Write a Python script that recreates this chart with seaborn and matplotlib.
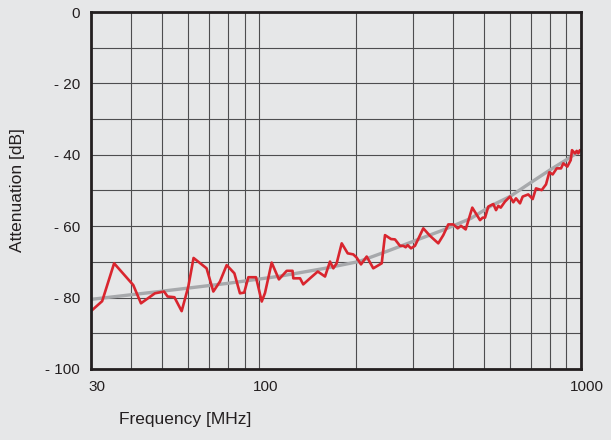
import matplotlib
matplotlib.use("Agg")
import matplotlib.pyplot as plt
import matplotlib.ticker as mticker
import matplotlib.transforms as mtransforms
import seaborn as sns
import pandas as pd

freq_mhz = [30, 32.5, 35.4, 40.6, 42.9, 47.4, 50.6, 51.9, 54.5, 57.4,
            60.2, 62.5, 68.6, 72.0, 75.5, 79.2, 83.7, 87.1, 89.8, 92.5,
            97.7, 101.8, 104.2, 109.3, 115.1, 121.7, 126.9, 127.6, 133.9, 137.0,
            143.8, 152.0, 160.1, 165.9, 169.9, 174.0, 180.4, 188.3, 196.0, 200.8,
            207.1, 215.7, 226.1, 240.2, 245.9, 256.7, 264.1, 273.7, 280.3, 285.1,
            289.2, 296.2, 304.7, 323.4, 339.3, 360.0, 373.2, 386.8, 400.8, 413.7,
            423.6, 438.0, 459.2, 485.3, 494.8, 503.1, 515.0, 533.8, 544.2, 553.2,
            562.8, 580.3, 601.5, 615.8, 627.8, 646.0, 658.6, 685.4, 707.4, 724.3,
            754.4, 778.1, 796.8, 816.3, 840.2, 866.4, 880.9, 906.4, 928.6, 937.3,
            957.5, 969.3, 980.5, 992.5]
atten_db = [-83.8, -81.0, -70.4, -76.5, -81.6, -78.8, -78.3, -79.7, -79.9, -83.8,
            -76.9, -68.9, -71.8, -78.3, -75.5, -70.9, -73.2, -78.8, -78.6, -74.3,
            -74.3, -81.1, -78.7, -70.2, -74.9, -72.5, -72.5, -74.6, -74.6, -76.3,
            -74.6, -72.7, -74.1, -69.9, -71.8, -70.4, -64.8, -67.6, -67.9, -68.8,
            -70.7, -68.5, -71.8, -70.4, -62.5, -63.6, -63.7, -65.5, -65.5, -65.9,
            -65.3, -66.2, -65.5, -60.6, -62.7, -64.8, -62.5, -59.5, -59.5, -60.6,
            -59.9, -60.9, -54.8, -58.3, -57.6, -57.6, -54.5, -53.8, -55.5, -54.3,
            -54.8, -53.1, -51.7, -53.3, -52.2, -53.6, -51.7, -51.1, -52.4, -49.4,
            -49.9, -48.3, -44.9, -45.5, -43.8, -43.8, -42.4, -43.3, -41.5, -38.7,
            -39.6, -38.9, -39.6, -38.7]

# smooth trend line
trend_freq = [30, 50, 80, 116, 160, 204, 250, 308, 372, 455, 530, 601, 700, 805, 900, 1000]
trend_db = [-80.5, -78.2, -76.0, -74.0, -71.8, -69.9, -67.0, -63.9, -61.1, -57.8,
            -54.1, -51.7, -47.7, -44.1, -41.4, -38.7]

x_ticks = [30, 100, 1000]
x_labels = ["30", "100", "1000"]
y_ticks = [0, -20, -40, -60, -80, -100]
y_labels = ["0", "- 20", "- 40", "- 60", "- 80", "- 100"]

meas = pd.DataFrame({"f": freq_mhz, "a": atten_db})
trend = pd.DataFrame({"f": trend_freq, "a": trend_db})

sns.set_style("white")
plt.rcParams["font.family"] = ["Liberation Sans", "DejaVu Sans"]

bg = "#e6e7e8"
fig = plt.figure(figsize=(6.11, 4.40), dpi=100, facecolor=bg)
ax = fig.add_axes([0.1489, 0.1614, 0.8021, 0.8113])
ax.set_facecolor(bg)

sns.lineplot(data=trend, x="f", y="a", ax=ax, color="#a7a9ac", lw=2.4, sort=False)
sns.lineplot(data=meas, x="f", y="a", ax=ax, color="#d9252e", lw=1.9, sort=False)

ax.set_xscale("log")
ax.set_xlim(30, 1000)
ax.set_ylim(-100, 0)

ax.set_xticks(x_ticks)
ax.set_xticklabels(x_labels)
ax.xaxis.set_minor_locator(mticker.LogLocator(subs=range(2, 10)))
ax.xaxis.set_minor_formatter(mticker.NullFormatter())
ax.set_yticks(y_ticks)
ax.set_yticklabels(y_labels)
ax.yaxis.set_minor_locator(mticker.MultipleLocator(10))

ax.grid(True, which="both", color="#4d4d4f", lw=0.8)
ax.set_axisbelow(True)
ax.tick_params(which="both", length=0, labelsize=11, colors="#231f20", pad=8)

# x labels sit a little right of their ticks in the original
shift = mtransforms.ScaledTranslation(6 / 100, 0, fig.dpi_scale_trans)
for lab in ax.get_xticklabels():
    lab.set_transform(lab.get_transform() + shift)

for s in ax.spines.values():
    s.set_color("#231f20")
    s.set_linewidth(2.0)
    s.set_visible(True)

ax.set_xlabel("Frequency [MHz]", fontsize=12.5, color="#231f20")
ax.set_ylabel("Attenuation [dB]", fontsize=12.5, color="#231f20")
ax.xaxis.set_label_coords(0.192, -0.12)
ax.yaxis.set_label_coords(-0.135, 0.5)

fig.savefig("out.png", dpi=100, facecolor=bg)
